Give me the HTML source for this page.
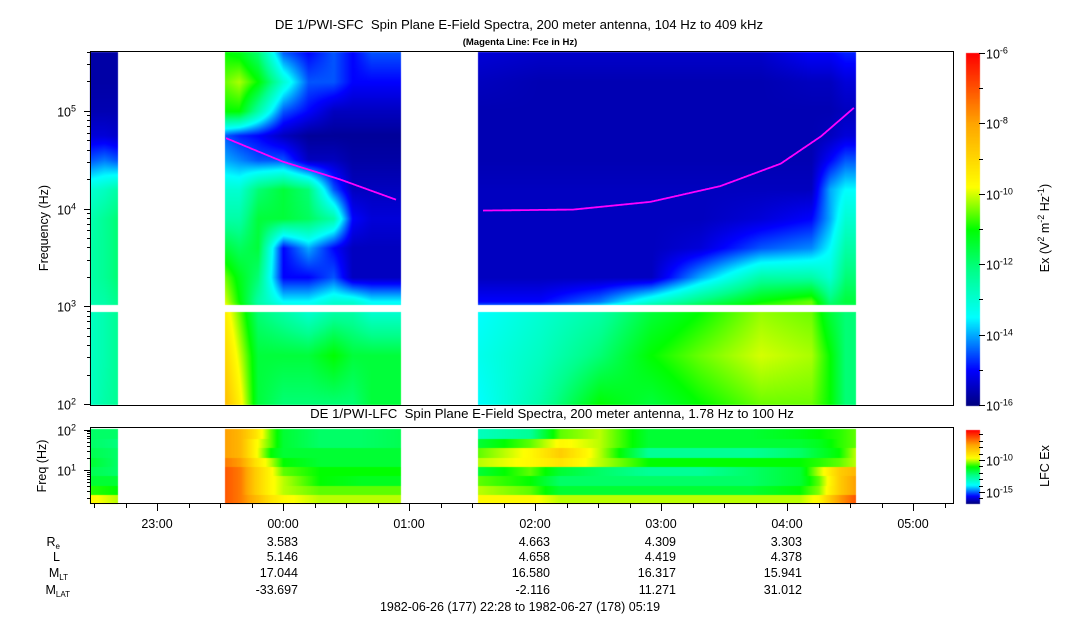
<!DOCTYPE html>
<html><head><meta charset="utf-8">
<style>
body{margin:0;background:#fff;width:1083px;height:620px;overflow:hidden;position:relative;font-family:"Liberation Sans",sans-serif;}
canvas{position:absolute;left:0;top:0;}
svg{position:absolute;left:0;top:0;}
text{font-family:"Liberation Sans",sans-serif;fill:#000;white-space:pre;}
</style></head>
<body>
<canvas id="cv" width="1083" height="620"></canvas>
<svg id="sv" width="1083" height="620">
<text x="519" y="29" font-size="13.2" text-anchor="middle" xml:space="preserve">DE 1/PWI-SFC  Spin Plane E-Field Spectra, 200 meter antenna, 104 Hz to 409 kHz</text>
<text x="520" y="45" font-size="9.5" font-weight="bold" text-anchor="middle">(Magenta Line: Fce in Hz)</text>
<text x="552" y="418" font-size="13.2" text-anchor="middle" xml:space="preserve">DE 1/PWI-LFC  Spin Plane E-Field Spectra, 200 meter antenna, 1.78 Hz to 100 Hz</text>
<text transform="translate(48,228) rotate(-90)" font-size="12.5" text-anchor="middle">Frequency (Hz)</text>
<text transform="translate(46,466) rotate(-90)" font-size="12.5" text-anchor="middle">Freq (Hz)</text>
<text transform="translate(1049,228) rotate(-90)" font-size="12.5" text-anchor="middle">Ex (V<tspan dy="-5" font-size="9">2</tspan><tspan dy="5"> m</tspan><tspan dy="-5" font-size="9">-2</tspan><tspan dy="5"> Hz</tspan><tspan dy="-5" font-size="9">-1</tspan><tspan dy="5">)</tspan></text>
<text transform="translate(1049,466) rotate(-90)" font-size="12.5" text-anchor="middle">LFC Ex</text>
<g font-size="12.5" text-anchor="end">
<text x="60" y="546">R<tspan font-size="8" dy="3">e</tspan></text>
<text x="60" y="561">L</text>
<text x="68" y="577">M<tspan font-size="8" dy="3">LT</tspan></text>
<text x="70" y="594">M<tspan font-size="8" dy="3">LAT</tspan></text>
</g>
<text x="520" y="611" font-size="12.5" text-anchor="middle">1982-06-26 (177) 22:28 to 1982-06-27 (178) 05:19</text>
<g id="ax"></g>
</svg>
<script>
// ---------- data ----------
const hourTicks=['23:00','00:00','01:00','02:00','03:00','04:00','05:00'];
const hourTickT=[-1,0,1,2,3,4,5];
const ephemT=[0,2,3,4];
const ephemRe=['3.583','4.663','4.309','3.303'];
const ephemL=['5.146','4.658','4.419','4.378'];
const ephemMLT=['17.044','16.580','16.317','15.941'];
const ephemMLAT=['-33.697','-2.116','11.271','31.012'];
// HFC rows (log10 Hz)
const hfRows=[2.0,2.5,2.95,3.05,3.3,3.6,3.9,4.2,4.5,4.75,5.0,5.3,5.61];
const seg1T=[-1.53,-1.42,-1.32];
const seg1V=[
[-12.8,-12.8,-12.8,-12.6,-12.5,-12.5,-12.6,-13,-14.5,-15.3,-15.6,-15.7,-15.7],
[-12.5,-12.6,-12.6,-12.5,-12.3,-12.3,-12.3,-12.8,-14.3,-15.3,-15.6,-15.7,-15.7],
[-12.3,-12.3,-12.3,-12.2,-12,-12,-12,-12.5,-14.5,-15.4,-15.6,-15.7,-15.7]];
const seg2T=[-0.46,-0.35,-0.2,0,0.2,0.4,0.55,0.7,0.93];
const seg2V=[
[-8.5,-9,-9.5,-10,-10.5,-11.5,-12.5,-13,-14,-14.5,-11,-10.5,-11],
[-9.5,-10,-10.5,-11,-11.2,-11.8,-12.5,-13,-14.2,-14.8,-11,-10.2,-11.2],
[-11.5,-11.5,-12,-12.5,-12,-11.5,-11.5,-12,-14.5,-15,-12.5,-11,-12],
[-12,-11.5,-12.5,-13.5,-15,-15,-11.5,-11.5,-14.5,-15.5,-14.5,-13,-14.5],
[-12,-11.5,-13,-13.5,-15,-14,-11.8,-12,-15.5,-15.8,-15,-14.5,-15],
[-12,-11,-12.5,-13,-14.5,-15,-12.5,-14.5,-15.5,-15.8,-15.5,-14.5,-14.5],
[-12,-11.5,-12.5,-13,-15.5,-15.5,-15,-15.5,-15.7,-15.8,-15.5,-15,-15],
[-11.5,-11.5,-13,-13.5,-15.5,-15.5,-15.3,-15.5,-15.7,-15.8,-15.5,-15,-14.5],
[-11.5,-11.5,-13,-13.5,-15.5,-15.5,-15.3,-15.5,-15.7,-15.8,-15.5,-15,-14.5]];
const seg3T=[1.55,2.04,2.51,2.92,3.31,3.79,4.19,4.34,4.46,4.54];
const seg3V=[
[-13.5,-13.3,-13.5,-15,-15.5,-15.5,-15.5,-15.5,-15.6,-15.6,-15.6,-15.5,-15.3],
[-12.5,-12.8,-13,-15,-15.5,-15.5,-15.5,-15.5,-15.6,-15.6,-15.6,-15.6,-15.4],
[-11,-12,-12.5,-14.3,-15.5,-15.5,-15.5,-15.5,-15.6,-15.6,-15.6,-15.6,-15.4],
[-11.5,-11,-11.5,-13,-15.5,-15.5,-15.5,-15.5,-15.6,-15.6,-15.6,-15.6,-15.4],
[-11,-10.5,-11,-12,-14,-15.3,-15.5,-15.5,-15.6,-15.6,-15.6,-15.6,-15.4],
[-10.5,-10,-10.3,-11,-12.5,-14.5,-15.3,-15.5,-15.6,-15.6,-15.6,-15.6,-15.4],
[-10.5,-10.2,-10.5,-10.5,-12.5,-14.2,-15,-15.5,-15.6,-15.6,-15.6,-15.5,-15],
[-11,-11,-11.5,-12,-13,-13.5,-14,-14,-15,-15.5,-15.6,-15.5,-15],
[-12,-12,-12,-11.5,-12,-12.5,-13,-13.5,-14.5,-15.3,-15.5,-15.3,-14.8],
[-12,-12,-12,-11.5,-12,-12.5,-13,-13.5,-14.5,-15.3,-15.5,-15.3,-14.8]];
// Fce line (log10 Hz)
const fce2T=[-0.45,0,0.45,0.9];
const fce2F=[4.72,4.48,4.30,4.09];
const fce3T=[1.59,2.3,2.92,3.47,3.95,4.27,4.53];
const fce3F=[3.98,3.99,4.07,4.23,4.46,4.74,5.03];
// LFC: 8 bands top->bottom
const lfc1T=[-1.53,-1.32];
const lfc1V=[[-12,-12],[-12,-12.2],[-11.8,-12],[-11.5,-12],[-11.8,-12],[-11.5,-11.5],[-10.8,-11],[-9.5,-10]];
const lfc2T=[-0.46,-0.34,-0.22,-0.1,0,0.29,0.61,0.93];
const lfc2V=[
[-7.5,-8,-9,-10.5,-11.5,-12,-12,-11.8],
[-7.5,-8,-9.5,-10.5,-11.5,-12,-12,-11.8],
[-7.5,-8,-9.5,-11,-11.5,-11.5,-11.5,-11.5],
[-7,-7.5,-9,-10,-11,-11.5,-11.5,-11.5],
[-6.5,-7,-8.5,-9.5,-10.5,-11,-11,-11],
[-6.5,-7,-8.5,-9.5,-10,-11,-11.3,-11.3],
[-6.5,-7,-8.5,-9.5,-10,-10.5,-10.5,-10.5],
[-6.5,-7,-8,-9,-9.5,-10,-10,-10]];
const lfc3T=[1.55,1.96,2.20,2.51,2.90,3.30,3.71,4.10,4.25,4.41,4.54];
const lfc3V=[
[-13,-12.5,-10.5,-10,-11.5,-11.5,-11.5,-11.2,-11,-10.8,-10.5],
[-11.5,-10.5,-9.5,-10,-11.5,-11.5,-11.5,-11.5,-11.3,-10.8,-10.5],
[-10.5,-9.5,-8.5,-10,-12.5,-12.5,-12.5,-12,-11.5,-11,-10],
[-10,-9.5,-9,-10,-11,-11,-11,-11,-10.8,-10.5,-10],
[-11.5,-10.5,-11.5,-12,-12.5,-12.5,-12,-11.5,-10,-8.5,-8],
[-10.5,-11,-12,-12,-12,-12,-12,-11.5,-10.5,-8.5,-7.5],
[-10,-10.5,-11.5,-11.5,-11.5,-11.5,-11.5,-11,-10.3,-8.5,-7.5],
[-9.5,-9.5,-10,-10,-10,-10,-10,-10,-9.5,-7.5,-6.5]];

// ---------- scales ----------
const X0=283,HPX=126;
const xOf=t=>X0+t*HPX;
const tOf=x=>(x-X0)/HPX;
const yHF=lf=>404-(lf-2)*97.7;
const lfHF=y=>2+(404-y)/97.7;
const P={l:90,r:953,t:51,b:405};
const L={t:428,b:504};
const yLF=lf=>470-(lf-1)*40.5;

const stops=[[0,0,0,128],[0.1,0,0,255],[0.25,0,255,255],[0.38,0,255,140],[0.5,0,255,0],[0.62,255,255,0],[0.8,255,165,0],[1,255,0,0]];
function jet(p){p=Math.max(0,Math.min(1,p));for(let i=1;i<stops.length;i++){if(p<=stops[i][0]){const a=stops[i-1],b=stops[i],f=(p-a[0])/(b[0]-a[0]);return [a[1]+f*(b[1]-a[1]),a[2]+f*(b[2]-a[2]),a[3]+f*(b[3]-a[3])];}}return [255,0,0];}
function interp(xs,ys,x){if(x<=xs[0])return ys[0];for(let i=1;i<xs.length;i++){if(x<=xs[i]){const f=(x-xs[i-1])/(xs[i]-xs[i-1]);return ys[i-1]+f*(ys[i]-ys[i-1]);}}return ys[ys.length-1];}

const cv=document.getElementById('cv'),ctx=cv.getContext('2d');
const img=ctx.createImageData(1083,620);
function px(x,y,c){const k=(y*1083+x)*4;img.data[k]=c[0];img.data[k+1]=c[1];img.data[k+2]=c[2];img.data[k+3]=255;}
function drawHF(T,V){
  const x1=Math.round(xOf(T[0])),x2=Math.round(xOf(T[T.length-1]));
  for(let x=x1;x<=x2;x++){
    const t=tOf(x);
    const col=hfRows.map((_,r)=>interp(T,V.map(c=>c[r]),t));
    for(let y=P.t+1;y<P.b;y++){
      if(y>=305&&y<=311)continue;
      const v=interp(hfRows,col,lfHF(y));
      px(x,y,jet((v+16)/10));
    }
  }
}
function drawLF(T,V){
  const x1=Math.round(xOf(T[0])),x2=Math.round(xOf(T[T.length-1]));
  const bh=(L.b-L.t-1)/8;
  for(let x=x1;x<=x2;x++){
    const t=tOf(x);
    for(let y=L.t+1;y<L.b;y++){
      const r=Math.min(7,Math.floor((y-L.t-1)/bh));
      const v=interp(T,V[r],t);
      px(x,y,jet((v+16.7)/11.4));
    }
  }
}
drawHF(seg1T,seg1V);drawHF(seg2T,seg2V);drawHF(seg3T,seg3V);
drawLF(lfc1T,lfc1V);drawLF(lfc2T,lfc2V);drawLF(lfc3T,lfc3V);
for(let y=53;y<=405;y++){const c=jet((405-y)/352);for(let x=966;x<=979;x++)px(x,y,c);}
for(let y=430;y<=503;y++){const c=jet((503-y)/73);for(let x=966;x<=979;x++)px(x,y,c);}
ctx.putImageData(img,0,0);

// ---------- SVG axes ----------
const NS='http://www.w3.org/2000/svg';
const ax=document.getElementById('ax');
function el(tag,attrs,parent){const e=document.createElementNS(NS,tag);for(const k in attrs)e.setAttribute(k,attrs[k]);(parent||ax).appendChild(e);return e;}
function line(x1,y1,x2,y2,p){return el('line',{x1,y1,x2,y2,stroke:'#000','stroke-width':1},p);}
let f1=el('rect',{x:P.l+0.5,y:P.t+0.5,width:P.r-P.l,height:P.b-P.t,fill:'none',stroke:'#000'});


let f2=el('rect',{x:P.l+0.5,y:L.t-0.5,width:P.r-P.l,height:L.b-L.t,fill:'none',stroke:'#000'});


function fcePath(T,F){let d='';for(let x=Math.round(xOf(T[0]));x<=Math.round(xOf(T[T.length-1]));x++){const y=yHF(interp(T,F,tOf(x)));d+=(d?'L':'M')+x+' '+y.toFixed(1);}return d;}
let fl1=el('path',{d:fcePath(fce2T,fce2F),stroke:'#ff00ff','stroke-width':1.8,fill:'none'});


let fl2=el('path',{d:fcePath(fce3T,fce3F),stroke:'#ff00ff','stroke-width':1.8,fill:'none'});


function supLabel(x,y,exp,anchor,name){const t=el('text',{x,y,'font-size':12.5,'text-anchor':anchor});t.appendChild(document.createTextNode('10'));const s=el('tspan',{dy:-5,'font-size':9},t);s.textContent=exp;return t;}
for(let d=2;d<=5;d++){
  const y=Math.round(yHF(d))+0.5;line(P.l-6,y,P.l,y);
  supLabel(76,y+5,String(d),'end','hf-y-tick-label');
  for(let m=2;m<=9;m++){const lf=d+Math.log10(m);if(lf>5.62)break;const yy=Math.round(yHF(lf))+0.5;line(P.l-3,yy,P.l,yy);}
}
for(let d=1;d<=2;d++){const y=Math.round(yLF(d))+0.5;line(P.l-6,y,P.l,y);supLabel(76,y+5,String(d),'end','lf-y-tick-label');}
for(let m=2;m<=9;m++){[0,1].forEach(d=>{const lf=d+Math.log10(m);if(lf<0.25)return;const yy=Math.round(yLF(lf))+0.5;if(yy<L.t||yy>L.b)return;line(P.l-3,yy,P.l,yy);});}
for(let q=-6;q<=21;q++){const t=q/4;const x=Math.round(xOf(t))+0.5;if(x<P.l||x>P.r)continue;line(x,L.b,x,L.b+(q%4===0?7:4));}
hourTicks.forEach((lab,i)=>{const t=el('text',{x:xOf(hourTickT[i]),y:528,'font-size':12.5,'text-anchor':'middle'});t.textContent=lab;});
[[ephemRe,546],[ephemL,561],[ephemMLT,577],[ephemMLAT,594]].forEach(([arr,y])=>{arr.forEach((v,i)=>{const t=el('text',{x:xOf(ephemT[i])+15,y,'font-size':12.5,'text-anchor':'end'});t.textContent=v;});});
for(let e=-16;e<=-6;e++){const y=Math.round(405-(e+16)*35.2)+0.5;line(979,y,e%2===0?985:983,y);if(e%2===0)supLabel(986,y+5,String(e),'start','colorbar-tick-label');}
for(let e=-16;e<=-6;e++){const y=Math.round(460-(e+10)*6.4)+0.5;if(y<430||y>503)continue;line(979,y,e%5===0?985:983,y);if(e===-10||e===-15)supLabel(986,y+5,String(e),'start','lfc-colorbar-tick-label');}
</script>
</body></html>
